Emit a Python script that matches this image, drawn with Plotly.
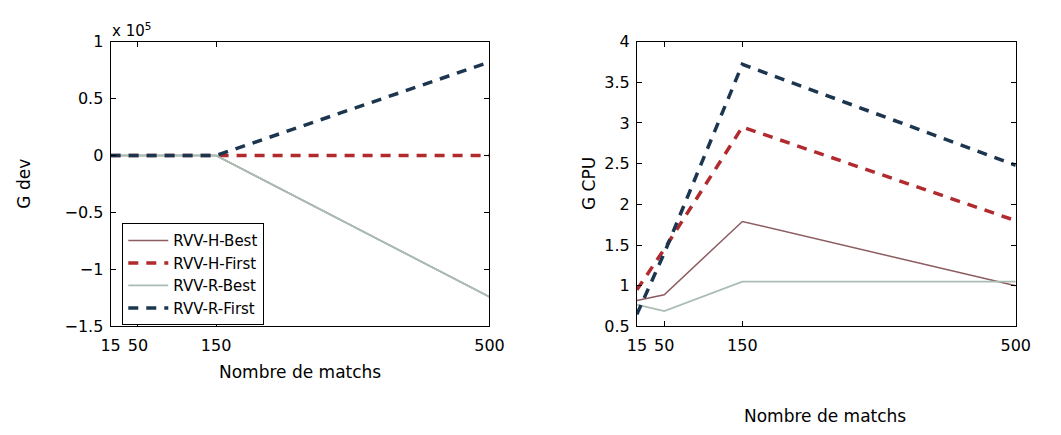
import plotly.graph_objects as go

matches = [15, 50, 150, 500]
x_ticks = [15, 50, 150, 500]
x_tick_text = ["15", "50", "150", "500"]

# G dev (raw values)
dev_h_best = [0, 0, 0, -124000]
dev_h_first = [0, 0, 0, 0]
dev_r_best = [0, 0, 0, -124000]
dev_r_first = [0, 0, 0, 82000]
dev_ticks = [-150000, -100000, -50000, 0, 50000, 100000]
dev_tick_text = ["−1.5", "−1", "−0.5", "0", "0.5", "1"]

# G CPU
cpu_h_best = [0.82, 0.89, 1.79, 1.0]
cpu_h_first = [0.95, 1.45, 2.95, 1.8]
cpu_r_best = [0.77, 0.69, 1.05, 1.05]
cpu_r_first = [0.65, 1.4, 3.72, 2.48]
cpu_ticks = [0.5, 1, 1.5, 2, 2.5, 3, 3.5, 4]
cpu_tick_text = ["0.5", "1", "1.5", "2", "2.5", "3", "3.5", "4"]

names = ["RVV-H-Best", "RVV-H-First", "RVV-R-Best", "RVV-R-First"]
colors = ["#8c5c60", "#b02a2e", "#a9bdb4", "#1c3650"]
widths = [1.5, 3.5, 1.8, 3.5]
dashes = ["solid", "10px,8px", "solid", "10px,8px"]

fig = go.Figure()
left = [dev_h_best, dev_h_first, dev_r_best, dev_r_first]
right = [cpu_h_best, cpu_h_first, cpu_r_best, cpu_r_first]
for i in range(4):
    fig.add_trace(go.Scatter(x=matches, y=left[i], mode="lines", name=names[i],
                             line=dict(color=colors[i], width=widths[i], dash=dashes[i]),
                             xaxis="x", yaxis="y", showlegend=True))
for i in range(4):
    fig.add_trace(go.Scatter(x=matches, y=right[i], mode="lines", name=names[i],
                             line=dict(color=colors[i], width=widths[i], dash=dashes[i]),
                             xaxis="x2", yaxis="y2", showlegend=False))

fam = "DejaVu Sans, Arial, sans-serif"
tick_font = dict(family=fam, size=16, color="black")
title_font = dict(family=fam, size=17, color="black")
axis_common = dict(showline=True, linecolor="black", linewidth=1, mirror="ticks",
                   ticks="inside", ticklen=5, tickcolor="black", showgrid=False,
                   zeroline=False, tickfont=tick_font)

fig.update_layout(
    width=1061, height=435,
    margin=dict(l=0, r=0, t=0, b=0),
    paper_bgcolor="white", plot_bgcolor="white",
    font=tick_font,
    xaxis=dict(domain=[0.0971, 0.4628], range=[15, 500], tickvals=x_ticks,
               ticktext=x_tick_text, anchor="y", ticklabelstandoff=4, **axis_common),
    yaxis=dict(domain=[0.2368, 0.9218], range=[-150000, 100000], tickvals=dev_ticks,
               ticktext=dev_tick_text, anchor="x", ticklabelstandoff=3, **axis_common),
    xaxis2=dict(domain=[0.6051, 0.9708], range=[15, 500], tickvals=x_ticks,
                ticktext=x_tick_text, anchor="y2", ticklabelstandoff=4, **axis_common),
    yaxis2=dict(domain=[0.2368, 0.9218], range=[0.5, 4], tickvals=cpu_ticks,
                ticktext=cpu_tick_text, anchor="x2", ticklabelstandoff=3, **axis_common),
    legend=dict(x=115/1061, y=1-224/435, xanchor="left", yanchor="top",
                bordercolor="black", borderwidth=1, bgcolor="white",
                font=dict(family=fam, size=15, color="black"),
                tracegroupgap=0, itemwidth=40),
    annotations=[
        dict(text="x 10<sup>5</sup>", x=102/1061, y=1-22/435, xref="paper", yref="paper",
             xanchor="left", yanchor="middle", showarrow=False,
             font=dict(family=fam, size=15, color="black")),
        dict(text="G dev", x=14/1061, y=1-183/435, xref="paper", yref="paper",
             textangle=-90, xanchor="center", yanchor="middle", showarrow=False, font=title_font),
        dict(text="G CPU", x=593/1061, y=1-183/435, xref="paper", yref="paper",
             textangle=-90, xanchor="center", yanchor="middle", showarrow=False, font=title_font),
        dict(text="Nombre de matchs", x=297/1061, y=1-380/435, xref="paper", yref="paper",
             xanchor="center", yanchor="middle", showarrow=False, font=title_font),
        dict(text="Nombre de matchs", x=835/1061, y=1-426/435, xref="paper", yref="paper",
             xanchor="center", yanchor="middle", showarrow=False, font=title_font),
    ],
)

fig.write_html("out.html")
